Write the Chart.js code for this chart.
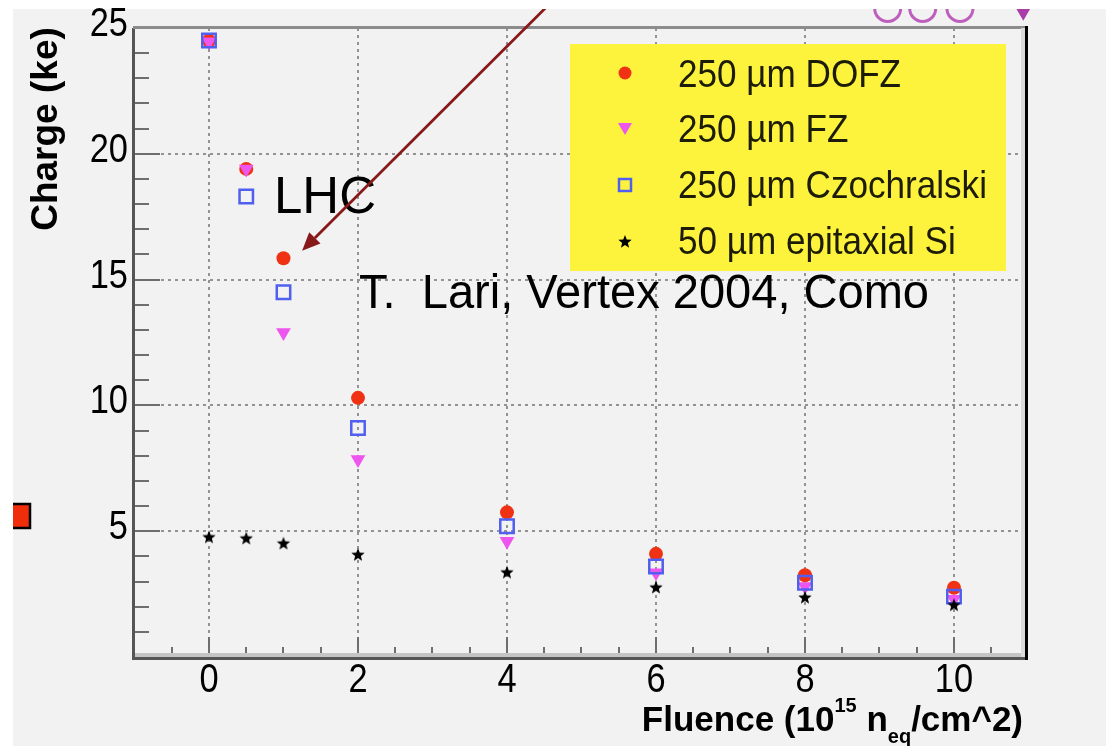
<!DOCTYPE html>
<html><head><meta charset="utf-8">
<script src="https://cdn.jsdelivr.net/npm/chart.js@4.4.1/dist/chart.umd.min.js"></script>
<style>html,body{margin:0;padding:0;background:#fff;overflow:hidden}canvas{display:block}</style>
</head><body>
<canvas id="c" width="1106" height="746"></canvas>
<script>
// ---- data ----
const fluence = [0, 0.5, 1, 2, 4, 6, 8, 10];
const chargeDOFZ = [24.5, 19.4, 15.85, 10.3, 5.75, 4.1, 3.25, 2.75];
const chargeFZ = [24.45, 19.4, 12.9, 7.85, 4.6, 3.35, 2.8, 2.3];
const chargeCz = [24.5, 18.3, 14.5, 9.1, 5.2, 3.6, 2.95, 2.4];
const chargeEpi = [4.75, 4.7, 4.5, 4.05, 3.35, 2.75, 2.35, 2.05];
const seriesLabels = ['250 µm DOFZ', '250 µm FZ', '250 µm Czochralski', '50 µm epitaxial Si'];
const xTickValues = [0, 2, 4, 6, 8, 10];
const xTickLabels = ['0', '2', '4', '6', '8', '10'];
const yTickValues = [5, 10, 15, 20, 25];
const yTickLabels = ['5', '10', '15', '20', '25'];
const yFrameTop = 25;
// markers of the slide above, peeking in at the top edge
const topRingX = [9.11, 9.58, 10.08];
const topRingY = [25.78, 25.78, 25.78];
const topTriX = [10.93];
const topTriY = [25.65];
// annotation (arrow tail -> tip, in data units)
const arrowFrom = [4.62, 26.1];
const arrowTo = [1.25, 16.15];

const W = 1106, H = 746;
const FONT = '"Liberation Sans", Arial, sans-serif';
const C_RED = 'rgb(240,50,20)', C_MAG = 'rgb(238,85,238)', C_BLUE = 'rgb(80,95,240)';

function makeStar(R, r, color) {
  const s = Math.ceil(R * 2 + 2);
  const c = document.createElement('canvas'); c.width = s; c.height = s;
  const g = c.getContext('2d'); g.fillStyle = color; g.beginPath();
  for (let i = 0; i < 10; i++) {
    const rad = (i % 2) ? r : R; const a = -Math.PI / 2 + i * Math.PI / 5;
    g.lineTo(s / 2 + rad * Math.cos(a), s / 2 + rad * Math.sin(a));
  }
  g.closePath(); g.fill(); return c;
}
const starImg = makeStar(7, 3, '#000');
const pts = (ys, xs = fluence) => xs.map((x, i) => ({x, y: ys[i]}));

function txt(ctx, s, x, y, font, sx, align) {
  ctx.save(); ctx.font = font; ctx.translate(x, y); ctx.scale(sx, 1);
  ctx.textAlign = align; ctx.textBaseline = 'alphabetic'; ctx.fillText(s, 0, 0); ctx.restore();
}
function seg(ctx, x1, y1, x2, y2) { ctx.beginPath(); ctx.moveTo(x1, y1); ctx.lineTo(x2, y2); ctx.stroke(); }

const framePlugin = {
  id: 'frame',
  beforeDraw(chart) {
    const {ctx, chartArea: ca, scales: {x, y}} = chart;
    const a = {left: ca.left, right: ca.right, bottom: ca.bottom, top: Math.round(y.getPixelForValue(yFrameTop))};
    ctx.save();
    ctx.fillStyle = '#f2f2f2'; ctx.fillRect(0, 0, W, H);
    // grid
    ctx.setLineDash([3, 4]); ctx.strokeStyle = '#939393'; ctx.lineWidth = 2;
    xTickValues.forEach(v => { const px = Math.round(x.getPixelForValue(v)); seg(ctx, px, a.top, px, a.bottom); });
    yTickValues.forEach(v => { const py = Math.round(y.getPixelForValue(v)); seg(ctx, a.left, py, a.right, py); });
    ctx.setLineDash([]);
    // legend box
    ctx.fillStyle = '#fef33c'; ctx.fillRect(570, 44, 436, 227);
    // minor / major ticks
    ctx.strokeStyle = '#6e6e6e'; ctx.lineWidth = 2;
    for (let v = 1; v < 25; v++) {
      const py = Math.round(y.getPixelForValue(v));
      seg(ctx, a.left, py, a.left + (v % 5 === 0 ? 27 : 16), py);
    }
    for (let v = -0.5; v < 11; v += 0.5) {
      const px = Math.round(x.getPixelForValue(v));
      const major = Math.abs(v % 2) < 1e-9;
      seg(ctx, px, a.bottom, px, a.bottom - (major ? 20 : 10));
    }
    // frame
    ctx.fillStyle = '#c4c4c4'; ctx.fillRect(a.left, a.bottom - 4, a.right - a.left, 4);
    ctx.fillStyle = '#555'; ctx.fillRect(a.left - 1, a.bottom, a.right - a.left + 1, 3);
    ctx.fillRect(a.left - 1, a.top, 3, a.bottom - a.top + 3);
    ctx.fillStyle = '#8c8c8c'; ctx.fillRect(a.left, a.top - 2, a.right - a.left, 3);
    ctx.fillStyle = '#dadada'; ctx.fillRect(a.right - 6, a.top, 4, a.bottom - a.top);
    ctx.fillStyle = '#000'; ctx.fillRect(a.right - 2, a.top - 2, 3, a.bottom - a.top + 5);
    // legend entries
    const mx = 625, rowsM = [73, 128, 185, 242], rowsT = [87, 142, 198, 254];
    ctx.fillStyle = C_RED; ctx.beginPath(); ctx.arc(mx, rowsM[0], 6.5, 0, Math.PI * 2); ctx.fill();
    ctx.fillStyle = C_MAG; ctx.beginPath();
    ctx.moveTo(mx - 7, rowsM[1] - 5); ctx.lineTo(mx + 7, rowsM[1] - 5); ctx.lineTo(mx, rowsM[1] + 7); ctx.closePath(); ctx.fill();
    ctx.strokeStyle = C_BLUE; ctx.lineWidth = 2.5; ctx.strokeRect(mx - 6, rowsM[2] - 6, 12, 12);
    ctx.drawImage(starImg, mx - starImg.width / 2, rowsM[3] - starImg.height / 2);
    ctx.fillStyle = '#1c1c08';
    seriesLabels.forEach((s, i) => txt(ctx, s, 678, rowsT[i], '39px ' + FONT, 0.9, 'left'));
    ctx.restore();
  },
  afterDraw(chart) {
    const {ctx, scales: {x, y}} = chart;
    ctx.save();
    ctx.fillStyle = '#000';
    // annotations
    txt(ctx, 'LHC', 274, 213, '52px ' + FONT, 0.98, 'left');
    txt(ctx, 'T.  Lari, Vertex 2004, Como', 359, 308, '48px ' + FONT, 0.98, 'left');
    // arrow
    const x1 = x.getPixelForValue(arrowFrom[0]), y1 = y.getPixelForValue(arrowFrom[1]);
    const x2 = x.getPixelForValue(arrowTo[0]), y2 = y.getPixelForValue(arrowTo[1]);
    const ang = Math.atan2(y2 - y1, x2 - x1), L = 18, hw = 8;
    const bx = x2 - L * Math.cos(ang), by = y2 - L * Math.sin(ang);
    ctx.strokeStyle = 'rgb(135,25,25)'; ctx.fillStyle = 'rgb(135,25,25)'; ctx.lineWidth = 2.8;
    seg(ctx, x1, y1, bx, by);
    ctx.beginPath(); ctx.moveTo(x2, y2);
    ctx.lineTo(bx + hw * Math.sin(ang), by - hw * Math.cos(ang));
    ctx.lineTo(bx - hw * Math.sin(ang), by + hw * Math.cos(ang)); ctx.closePath(); ctx.fill();
    // bullet at left
    ctx.fillStyle = 'rgb(240,45,10)'; ctx.fillRect(6, 504, 24, 24);
    ctx.strokeStyle = '#000'; ctx.lineWidth = 2.5; ctx.strokeRect(6, 504, 24, 24);
    // white page edges
    ctx.fillStyle = '#fff'; ctx.fillRect(0, 0, W, 9); ctx.fillRect(0, 0, 13, H);
    // tick labels
    ctx.fillStyle = '#000';
    yTickValues.forEach((v, i) => txt(ctx, yTickLabels[i], 128, Math.round(y.getPixelForValue(v)) + 8, '40px ' + FONT, 0.86, 'right'));
    xTickValues.forEach((v, i) => txt(ctx, xTickLabels[i], x.getPixelForValue(v), 692, '40px ' + FONT, 0.86, 'center'));
    // y title
    ctx.save(); ctx.translate(57, 129); ctx.rotate(-Math.PI / 2);
    ctx.font = 'bold 37px ' + FONT; ctx.textAlign = 'center'; ctx.fillText('Charge (ke)', 0, 0); ctx.restore();
    // x title with super/subscripts
    const fB = 'bold 35px ' + FONT, fS = 'bold 20px ' + FONT;
    const parts = [['Fluence (10', fB, 0], ['15', fS, -19], [' n', fB, 0], ['eq', fS, 12], ['/cm^2)', fB, 0]];
    let total = 0;
    parts.forEach(p => { ctx.font = p[1]; total += ctx.measureText(p[0]).width; });
    let cx = 1023 - total;
    parts.forEach(p => { ctx.font = p[1]; ctx.textAlign = 'left'; ctx.fillText(p[0], cx, 731 + p[2]); cx += ctx.measureText(p[0]).width; });
    ctx.restore();
  }
};

new Chart(document.getElementById('c'), {
  type: 'scatter',
  data: {
    datasets: [
      {label: seriesLabels[3], data: pts(chargeEpi), pointStyle: starImg, order: 0},
      {label: seriesLabels[2], data: pts(chargeCz), pointStyle: 'rect', pointRadius: 9.5, backgroundColor: 'rgba(0,0,0,0)', borderColor: C_BLUE, borderWidth: 2.5, order: 1},
      {label: seriesLabels[1], data: pts(chargeFZ), pointStyle: 'triangle', rotation: 180, pointRadius: 8.5, backgroundColor: C_MAG, borderColor: C_MAG, borderWidth: 0, order: 2},
      {label: seriesLabels[0], data: pts(chargeDOFZ), pointStyle: 'circle', pointRadius: 7, backgroundColor: C_RED, borderColor: C_RED, borderWidth: 0, order: 3},
      {label: 'top rings', data: pts(topRingY, topRingX), pointStyle: 'circle', pointRadius: 13, backgroundColor: 'rgba(0,0,0,0)', borderColor: 'rgb(190,95,190)', borderWidth: 3, clip: false, order: 4},
      {label: 'top tri', data: pts(topTriY, topTriX), pointStyle: 'triangle', rotation: 180, pointRadius: 9, backgroundColor: 'rgb(170,60,170)', borderWidth: 0, clip: false, order: 4}
    ]
  },
  options: {
    responsive: false, animation: false, devicePixelRatio: 1, events: [],
    layout: {autoPadding: false, padding: {left: 133, top: 0, right: 79, bottom: 89}},
    plugins: {legend: {display: false}, tooltip: {enabled: false}},
    scales: {
      x: {type: 'linear', min: -1.02, max: 10.98, ticks: {display: false}, grid: {display: false, drawTicks: false}, border: {display: false}},
      y: {type: 'linear', min: 0, max: 26.113, ticks: {display: false}, grid: {display: false, drawTicks: false}, border: {display: false}}
    }
  },
  plugins: [framePlugin]
});
</script>
</body></html>
